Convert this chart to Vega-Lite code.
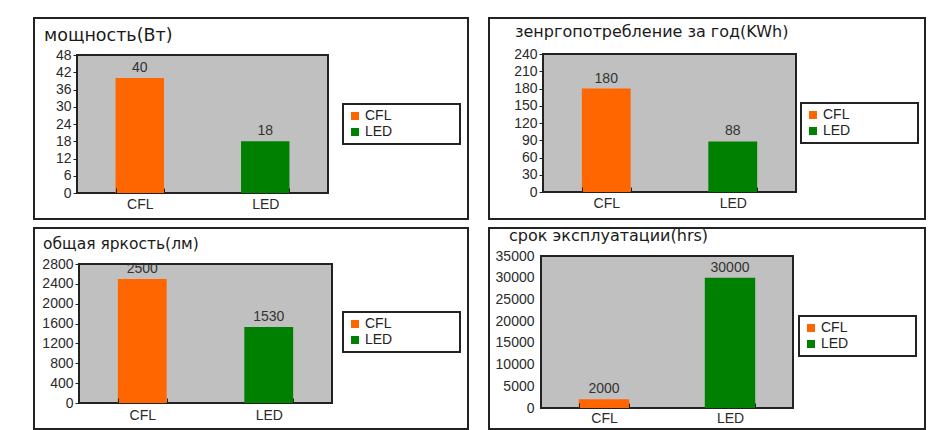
{
  "$schema": "https://vega.github.io/schema/vega-lite/v6.json",
  "padding": {"left": 33, "top": 17, "right": 0, "bottom": 0},
  "background": "white",
  "spacing": {"row": 7, "column": 19},
  "columns": 2,
  "resolve": {"scale": {"x": "independent", "y": "independent", "color": "independent"}, "legend": {"color": "independent"}},
  "config": {
    "font": "Liberation Sans",
    "view": {"stroke": "#222", "strokeWidth": 2, "fill": "white"},
    "axis": {"labelFont": "Liberation Sans", "labelFontSize": 14, "labelColor": "#2a2a2a", "domain": false, "grid": false, "tickColor": "#222", "title": null},
    "legend": {"labelFont": "Liberation Sans"},
    "title": {"font": "DejaVu Sans", "color": "#1a1a1a", "fontWeight": "normal", "anchor": "start", "frame": "group", "baseline": "middle"}
  },
  "concat": [
    {
      "width": 434, "height": 201,
      "title": {"text": "мощность(Вт)", "fontSize": 17.5, "dx": 10, "offset": -26},
      "data": {"values": [{"lamp": "CFL", "value": 40}, {"lamp": "LED", "value": 18}]},
      "resolve": {"scale": {"x": "independent"}, "axis": {"x": "independent"}},
      "layer": [
        {
          "data": {"values": [{}]},
          "mark": {"type": "rect", "fill": "#c0c0c0", "stroke": "#222", "strokeWidth": 2},
          "encoding": {
            "x": {"datum": 0, "type": "quantitative", "scale": {"domain": [0, 1], "range": [43, 294]}, "axis": null},
            "x2": {"datum": 1},
            "y": {"datum": 0, "type": "quantitative", "scale": {"domain": [0, 48], "range": [175, 37]}, "axis": {"values": [0, 6, 12, 18, 24, 30, 36, 42, 48], "offset": -43, "tickSize": 4, "labelPadding": 2}},
            "y2": {"datum": 48}
          }
        },
        {
          "encoding": {
            "x": {"field": "lamp", "type": "nominal", "scale": {"domain": ["CFL", "LED"], "range": [43, 294], "paddingInner": 0.614, "paddingOuter": 0.307}, "axis": {"labelAngle": 0, "offset": -26, "tickBand": "extent", "tickSize": -5, "labelPadding": 9, "zindex": 1}},
            "y": {"field": "value", "type": "quantitative", "scale": {"domain": [0, 48], "range": [175, 37]}, "axis": {"values": [0, 6, 12, 18, 24, 30, 36, 42, 48], "offset": -43, "tickSize": 4, "labelPadding": 2}}
          },
          "layer": [
            {
              "mark": {"type": "bar"},
              "encoding": {
                "color": {"field": "lamp", "type": "nominal", "scale": {"domain": ["CFL", "LED"], "range": ["#ff6600", "#008000"]}, "legend": {"orient": "none", "legendX": 309, "legendY": 86, "title": null, "strokeColor": "#222", "fillColor": "white", "padding": 5, "rowPadding": 2, "symbolType": "square", "symbolSize": 64, "symbolStrokeWidth": 0, "labelFontSize": 14, "labelColor": "#222", "labelOffset": 3, "labelExpr": "datum.label + '\u00a0\u00a0\u00a0\u00a0\u00a0\u00a0\u00a0\u00a0\u00a0\u00a0\u00a0\u00a0\u00a0\u00a0\u00a0\u00a0\u200b'", "encode": {"legend": {"update": {"strokeWidth": {"value": 2}}}}}}
              }
            },
            {
              "mark": {"type": "text", "baseline": "bottom", "dy": -3, "fontSize": 14, "color": "#333"},
              "encoding": {"text": {"field": "value", "type": "quantitative"}}
            }
          ]
        }
      ]
    },
    {
      "width": 436, "height": 201,
      "title": {"text": "зенргопотребление за год(KWh)", "fontSize": 16, "dx": 26, "offset": -22},
      "data": {"values": [{"lamp": "CFL", "value": 180}, {"lamp": "LED", "value": 88}]},
      "resolve": {"scale": {"x": "independent"}, "axis": {"x": "independent"}},
      "layer": [
        {
          "data": {"values": [{}]},
          "mark": {"type": "rect", "fill": "#c0c0c0", "stroke": "#222", "strokeWidth": 2},
          "encoding": {
            "x": {"datum": 0, "type": "quantitative", "scale": {"domain": [0, 1], "range": [54, 307]}, "axis": null},
            "x2": {"datum": 1},
            "y": {"datum": 0, "type": "quantitative", "scale": {"domain": [0, 240], "range": [174, 36]}, "axis": {"values": [0, 30, 60, 90, 120, 150, 180, 210, 240], "offset": -54, "tickSize": 4, "labelPadding": 2}},
            "y2": {"datum": 240}
          }
        },
        {
          "encoding": {
            "x": {"field": "lamp", "type": "nominal", "scale": {"domain": ["CFL", "LED"], "range": [54, 307], "paddingInner": 0.614, "paddingOuter": 0.307}, "axis": {"labelAngle": 0, "offset": -27, "tickBand": "extent", "tickSize": -5, "labelPadding": 9, "zindex": 1}},
            "y": {"field": "value", "type": "quantitative", "scale": {"domain": [0, 240], "range": [174, 36]}, "axis": {"values": [0, 30, 60, 90, 120, 150, 180, 210, 240], "offset": -54, "tickSize": 4, "labelPadding": 2}}
          },
          "layer": [
            {
              "mark": {"type": "bar"},
              "encoding": {
                "color": {"field": "lamp", "type": "nominal", "scale": {"domain": ["CFL", "LED"], "range": ["#ff6600", "#008000"]}, "legend": {"orient": "none", "legendX": 312, "legendY": 85, "title": null, "strokeColor": "#222", "fillColor": "white", "padding": 5, "rowPadding": 2, "symbolType": "square", "symbolSize": 64, "symbolStrokeWidth": 0, "labelFontSize": 14, "labelColor": "#222", "labelOffset": 3, "labelExpr": "datum.label + '\u00a0\u00a0\u00a0\u00a0\u00a0\u00a0\u00a0\u00a0\u00a0\u00a0\u00a0\u00a0\u00a0\u00a0\u00a0\u00a0\u200b'", "encode": {"legend": {"update": {"strokeWidth": {"value": 2}}}}}}
              }
            },
            {
              "mark": {"type": "text", "baseline": "bottom", "dy": -3, "fontSize": 14, "color": "#333"},
              "encoding": {"text": {"field": "value", "type": "quantitative"}}
            }
          ]
        }
      ]
    },
    {
      "width": 434, "height": 201,
      "title": {"text": "общая яркость(лм)", "fontSize": 15.5, "dx": 9, "offset": -24},
      "data": {"values": [{"lamp": "CFL", "value": 2500}, {"lamp": "LED", "value": 1530}]},
      "resolve": {"scale": {"x": "independent"}, "axis": {"x": "independent"}},
      "layer": [
        {
          "data": {"values": [{}]},
          "mark": {"type": "rect", "fill": "#c0c0c0", "stroke": "#222", "strokeWidth": 2},
          "encoding": {
            "x": {"datum": 0, "type": "quantitative", "scale": {"domain": [0, 1], "range": [45, 298]}, "axis": null},
            "x2": {"datum": 1},
            "y": {"datum": 0, "type": "quantitative", "scale": {"domain": [0, 2800], "range": [175, 36]}, "axis": {"values": [0, 400, 800, 1200, 1600, 2000, 2400, 2800], "format": "d", "offset": -45, "tickSize": 4, "labelPadding": 2}},
            "y2": {"datum": 2800}
          }
        },
        {
          "encoding": {
            "x": {"field": "lamp", "type": "nominal", "scale": {"domain": ["CFL", "LED"], "range": [45, 298], "paddingInner": 0.614, "paddingOuter": 0.307}, "axis": {"labelAngle": 0, "offset": -26, "tickBand": "extent", "tickSize": -5, "labelPadding": 10, "zindex": 1}},
            "y": {"field": "value", "type": "quantitative", "scale": {"domain": [0, 2800], "range": [175, 36]}, "axis": {"values": [0, 400, 800, 1200, 1600, 2000, 2400, 2800], "format": "d", "offset": -45, "tickSize": 4, "labelPadding": 2}}
          },
          "layer": [
            {
              "mark": {"type": "bar"},
              "encoding": {
                "color": {"field": "lamp", "type": "nominal", "scale": {"domain": ["CFL", "LED"], "range": ["#ff6600", "#008000"]}, "legend": {"orient": "none", "legendX": 309, "legendY": 84, "title": null, "strokeColor": "#222", "fillColor": "white", "padding": 5, "rowPadding": 2, "symbolType": "square", "symbolSize": 64, "symbolStrokeWidth": 0, "labelFontSize": 14, "labelColor": "#222", "labelOffset": 3, "labelExpr": "datum.label + '\u00a0\u00a0\u00a0\u00a0\u00a0\u00a0\u00a0\u00a0\u00a0\u00a0\u00a0\u00a0\u00a0\u00a0\u00a0\u00a0\u200b'", "encode": {"legend": {"update": {"strokeWidth": {"value": 2}}}}}}
              }
            },
            {
              "mark": {"type": "text", "baseline": "bottom", "dy": -3, "fontSize": 14, "color": "#333"},
              "encoding": {"text": {"field": "value", "type": "quantitative", "format": "d"}}
            }
          ]
        }
      ]
    },
    {
      "width": 436, "height": 201,
      "title": {"text": "срок эксплуатации(hrs)", "fontSize": 16, "dx": 20, "offset": -16},
      "data": {"values": [{"lamp": "CFL", "value": 2000}, {"lamp": "LED", "value": 30000}]},
      "resolve": {"scale": {"x": "independent"}, "axis": {"x": "independent"}},
      "layer": [
        {
          "data": {"values": [{}]},
          "mark": {"type": "rect", "fill": "#c0c0c0", "stroke": "#222", "strokeWidth": 2},
          "encoding": {
            "x": {"datum": 0, "type": "quantitative", "scale": {"domain": [0, 1], "range": [52, 304]}, "axis": null},
            "x2": {"datum": 1},
            "y": {"datum": 0, "type": "quantitative", "scale": {"domain": [0, 35000], "range": [180, 28]}, "axis": {"values": [0, 5000, 10000, 15000, 20000, 25000, 30000, 35000], "format": "d", "offset": -52, "tickSize": 0, "labelPadding": 7}},
            "y2": {"datum": 35000}
          }
        },
        {
          "encoding": {
            "x": {"field": "lamp", "type": "nominal", "scale": {"domain": ["CFL", "LED"], "range": [52, 304], "paddingInner": 0.6, "paddingOuter": 0.3}, "axis": {"labelAngle": 0, "offset": -21, "tickBand": "extent", "tickSize": -5, "labelPadding": 8, "zindex": 1}},
            "y": {"field": "value", "type": "quantitative", "scale": {"domain": [0, 35000], "range": [180, 28]}, "axis": {"values": [0, 5000, 10000, 15000, 20000, 25000, 30000, 35000], "format": "d", "offset": -52, "tickSize": 0, "labelPadding": 7}}
          },
          "layer": [
            {
              "mark": {"type": "bar"},
              "encoding": {
                "color": {"field": "lamp", "type": "nominal", "scale": {"domain": ["CFL", "LED"], "range": ["#ff6600", "#008000"]}, "legend": {"orient": "none", "legendX": 310, "legendY": 88, "title": null, "strokeColor": "#222", "fillColor": "white", "padding": 5, "rowPadding": 2, "symbolType": "square", "symbolSize": 64, "symbolStrokeWidth": 0, "labelFontSize": 14, "labelColor": "#222", "labelOffset": 3, "labelExpr": "datum.label + '\u00a0\u00a0\u00a0\u00a0\u00a0\u00a0\u00a0\u00a0\u00a0\u00a0\u00a0\u00a0\u00a0\u00a0\u00a0\u00a0\u200b'", "encode": {"legend": {"update": {"strokeWidth": {"value": 2}}}}}}
              }
            },
            {
              "mark": {"type": "text", "baseline": "bottom", "dy": -3, "fontSize": 14, "color": "#333"},
              "encoding": {"text": {"field": "value", "type": "quantitative", "format": "d"}}
            }
          ]
        }
      ]
    }
  ]
}
